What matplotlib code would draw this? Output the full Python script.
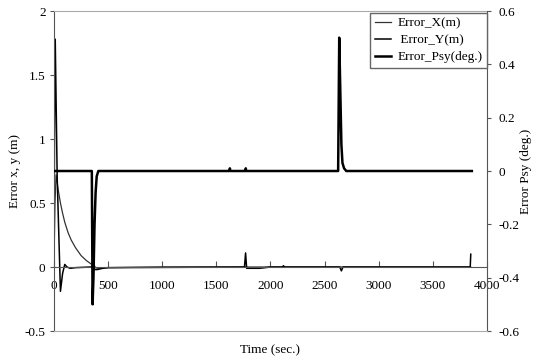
import matplotlib
matplotlib.use("Agg")
import matplotlib.pyplot as plt
from matplotlib.ticker import FuncFormatter

plt.rcParams['font.family'] = ['Liberation Serif', 'DejaVu Serif']
plt.rcParams['axes.unicode_minus'] = False

# Error_X (m)
t_x = [0, 10, 20, 40, 60, 80, 100, 130, 160, 200, 250, 300, 350, 360, 370, 380, 400, 500, 1000, 2000, 3000, 3850]
err_x = [0.0, 0.5, 0.72, 0.6, 0.5, 0.42, 0.35, 0.27, 0.21, 0.15, 0.09, 0.05, 0.02, 0.02, 0.01, 0.0, -0.01, -0.005, 0.0, 0.0, 0.0, 0.0]

# Error_Y (m)
t_y = [0, 5, 12, 30, 60, 80, 100, 120, 150, 200, 340, 355, 365, 375, 400, 450, 500, 1760, 1770, 1780,
       1900, 2000, 2110, 2120, 2130, 2640, 2655, 2670, 3845, 3850]
err_y = [0.0, 1.0, 1.78, 0.7, -0.19, -0.05, 0.02, 0.0, -0.01, -0.005, 0.0, 0.0, 0.13, -0.02, -0.02, -0.01, -0.005, 0.0, 0.11, -0.01,
         -0.01, 0.0, 0.0, 0.01, 0.0, 0.0, -0.03, 0.0, 0.0, 0.1]

# Error_Psy (deg.)
t_psy = [0, 350, 357, 365, 375, 385, 395, 410, 1620, 1625, 1630, 1768, 1772, 1776,
         2625, 2635, 2645, 2655, 2665, 2680, 2700, 3860]
err_psy = [0.0, 0.0, -0.5, -0.4, -0.2, -0.08, -0.02, 0.0, 0.0, 0.01, 0.0, 0.0, 0.01, 0.0,
           0.0, 0.5, 0.3, 0.1, 0.03, 0.01, 0.0, 0.0]

fig = plt.figure(figsize=(5.34, 3.62), dpi=100)
ax = fig.add_axes([0.101, 0.0856, 0.811, 0.884])
ax2 = ax.twinx()

l1, = ax.plot(t_x, err_x, color='#333333', lw=0.9, label='Error_X(m)')
l2, = ax.plot(t_y, err_y, color='black', lw=1.1, label=' Error_Y(m)')
l3, = ax2.plot(t_psy, err_psy, color='black', lw=1.8, label='Error_Psy(deg.)')

ax.set_xlim(0, 4000)
ax.set_ylim(-0.5, 2)
ax2.set_ylim(-0.6, 0.6)
ax.set_xticks(range(0, 4001, 500))
ax.set_yticks([-0.5, 0, 0.5, 1, 1.5, 2])
ax2.set_yticks([-0.6, -0.4, -0.2, 0, 0.2, 0.4, 0.6])
fmt = FuncFormatter(lambda v, p: '%g' % round(v, 2))
ax.yaxis.set_major_formatter(fmt)
ax2.yaxis.set_major_formatter(fmt)

ax.spines['bottom'].set_position(('data', 0))
ax.spines['bottom'].set_color('#555555')
ax.spines['top'].set_color('#aaaaaa')
ax.spines['left'].set_color('#555555')
ax.spines['right'].set_visible(False)
ax2.spines['bottom'].set_color('#aaaaaa')
ax2.spines['top'].set_visible(False)
ax2.spines['left'].set_visible(False)
ax2.spines['right'].set_color('#555555')

ax.tick_params(axis='x', direction='in', length=4, pad=9, labelsize=9.5, color='#555555')
ax.tick_params(axis='y', direction='out', length=3, pad=3, labelsize=9.5, color='#555555')
ax2.tick_params(axis='y', direction='out', length=3, pad=5, labelsize=9.5, color='#555555')

ax.set_xlabel('Time (sec.)', fontsize=9.5)
ax.xaxis.set_label_coords(0.5, -0.04)
ax.set_ylabel('Error x, y (m)', fontsize=9.5)
ax.yaxis.set_label_coords(-0.076, 0.5)
ax2.set_ylabel('Error Psy (deg.)', fontsize=9.5)
ax2.yaxis.set_label_coords(1.076, 0.5)

leg = ax2.legend(handles=[l1, l2, l3], loc='upper right', bbox_to_anchor=(1.0, 0.995),
                 fontsize=9.5, frameon=True, fancybox=False, framealpha=1, edgecolor='#666666',
                 handlelength=1.2, handletextpad=0.5, labelspacing=0.35, borderpad=0.35,
                 borderaxespad=0)
leg.get_frame().set_linewidth(1.0)

fig.savefig('out.png', dpi=100)
